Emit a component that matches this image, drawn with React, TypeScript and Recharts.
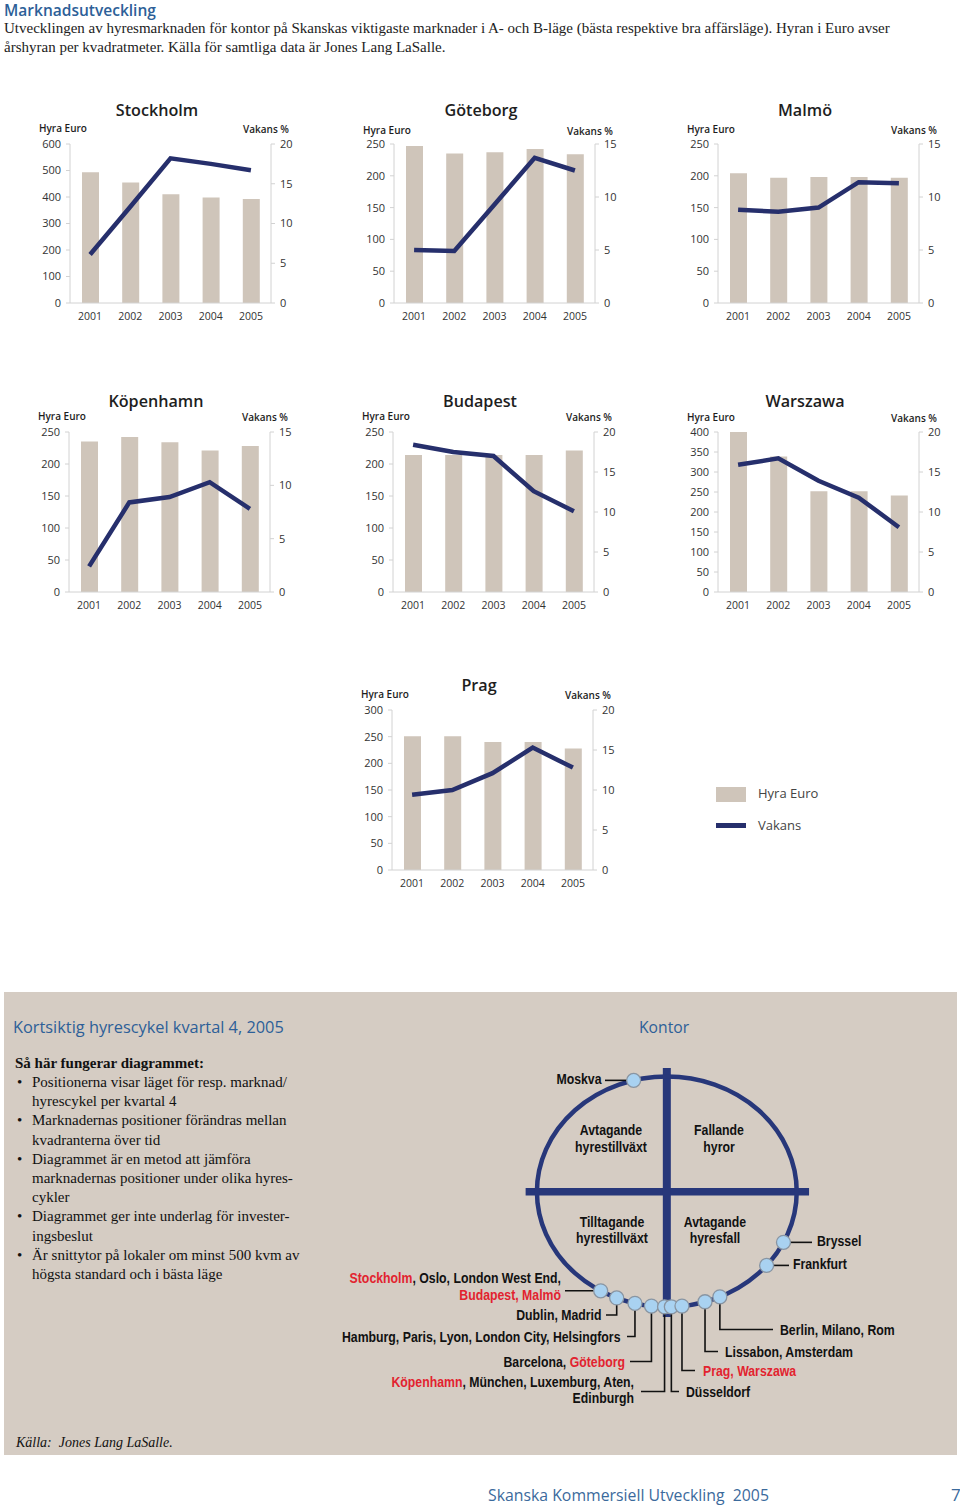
import React from "react"
import {
  ComposedChart, Bar, Line, XAxis, YAxis,
  ScatterChart, Scatter, ReferenceLine, ReferenceDot,
} from "recharts"

// ---- market data (Hyra Euro = rent per m2/year, Vakans % = vacancy) ----
const years = ["2001", "2002", "2003", "2004", "2005"]

const stockholmRent = [493, 455, 410, 398, 392]
const stockholmVacancy = [6.1, 12.1, 18.2, 17.5, 16.7]
const goteborgRent = [247, 235, 237, 242, 234]
const goteborgVacancy = [5.0, 4.9, 9.3, 13.7, 12.5]
const malmoRent = [204, 197, 198, 198, 197]
const malmoVacancy = [8.8, 8.6, 9.0, 11.4, 11.3]
const kopenhamnRent = [235, 242, 234, 221, 228]
const kopenhamnVacancy = [2.4, 8.4, 8.9, 10.3, 7.8]
const budapestRent = [214, 214, 214, 214, 221]
const budapestVacancy = [18.4, 17.5, 17.0, 12.6, 10.1]
const warszawaRent = [400, 339, 252, 252, 241]
const warszawaVacancy = [15.9, 16.7, 13.9, 11.8, 8.1]
const pragRent = [251, 251, 240, 240, 228]
const pragVacancy = [9.4, 10.0, 12.1, 15.3, 12.8]

const ticks250 = [0, 50, 100, 150, 200, 250]
const ticks300 = [0, 50, 100, 150, 200, 250, 300]
const ticks400 = [0, 50, 100, 150, 200, 250, 300, 350, 400]
const ticks600 = [0, 100, 200, 300, 400, 500, 600]
const vac15 = [0, 5, 10, 15]
const vac20 = [0, 5, 10, 15, 20]

// ---- hyrescykel (rent clock), position as angle on the cycle in degrees ----
const cycleMarkets = [
  "Moskva", "Bryssel", "Frankfurt", "Stockholm", "Dublin", "Hamburg",
  "Barcelona", "Köpenhamn", "Düsseldorf", "Prag", "Lissabon", "Berlin",
]
const cycleAngles = [104.8, -26.1, -39.8, -120.6, -112.7, -104.2, -96.8, -91, -88, -83.3, -72.9, -65.9]

// label text per dot, [text, highlighted]
const cycleLabels: [string, boolean][][][] = [
  [[["Moskva", false]]],
  [[["Bryssel", false]]],
  [[["Frankfurt", false]]],
  [[["Stockholm", true], [", Oslo, London West End,", false]], [["Budapest, Malmö", true]]],
  [[["Dublin, Madrid", false]]],
  [[["Hamburg, Paris, Lyon, London City, Helsingfors", false]]],
  [[["Barcelona, ", false], ["Göteborg", true]]],
  [[["Köpenhamn", true], [", München, Luxemburg, Aten,", false]], [["Edinburgh", false]]],
  [[["Düsseldorf", false]]],
  [[["Prag, Warszawa", true]]],
  [[["Lissabon, Amsterdam", false]]],
  [[["Berlin, Milano, Rom", false]]],
]

const NAVY = "#262f6c"
const BEIGE = "#cfc5ba"
const BLUE = "#2d5f98"
const RED = "#e2232f"

// ---- layout ----
const PW = 201
const ML = 60
const MR = 60
const MT = 10
const XH = 24

function T({ x, y, size, children, color = "#222", family = "'Open Sans', sans-serif", weight = 400, italic = false, align = "left", sx = 1 }: any) {
  const lh = Math.round(size * 1.2)
  const base: any = {
    position: "absolute", top: y - lh / 2, lineHeight: lh + "px", fontSize: size,
    fontFamily: family, fontWeight: weight, fontStyle: italic ? "italic" : "normal",
    color, whiteSpace: "nowrap", transform: `scaleX(${sx})`,
  }
  if (align === "center") {
    return <div style={{ ...base, left: x - 200, width: 400, textAlign: "center", transformOrigin: "center" }}>{children}</div>
  }
  if (align === "right") {
    return <div style={{ ...base, left: x - 600, width: 600, textAlign: "right", transformOrigin: "right" }}>{children}</div>
  }
  return <div style={{ ...base, left: x, transformOrigin: "left" }}>{children}</div>
}

function CityChart({ title, rent, vacancy, rentTicks, vacTicks, left, top, ph, titleY, labelY }: any) {
  const data = years.map((y, i) => ({ year: y, rent: rent[i], vacancy: vacancy[i] }))
  const w = PW + ML + MR
  const h = ph + MT + XH
  const axisStroke = "#d2d2d2"
  return (
    <>
      <T x={left + 87} y={titleY} size={17} align="center" color="#1e1e1e" weight={600} sx={0.95}>{title}</T>
      <T x={left - 31} y={labelY} size={10} weight={600} color="#1e1e1e">Hyra Euro</T>
      <T x={left + PW + 18} y={labelY + 1} size={10} weight={600} color="#1e1e1e" align="right">Vakans %</T>
      <div style={{ position: "absolute", left: left - ML, top: top - MT, width: w, height: h }}>
        <ComposedChart width={w} height={h} data={data} margin={{ top: MT, right: 0, bottom: 0, left: 0 }}>
          <XAxis
            dataKey="year" height={XH} interval={0} tickLine={false} tickMargin={4}
            axisLine={{ stroke: axisStroke }}
            tick={{ fontSize: 10.5, fill: "#333", fontFamily: "'Open Sans', sans-serif" }}
          />
          <YAxis
            yAxisId="rent" orientation="left" width={ML} domain={[0, rentTicks[rentTicks.length - 1]]}
            ticks={rentTicks} interval={0} tickSize={4} tickMargin={5}
            axisLine={{ stroke: axisStroke }} tickLine={{ stroke: axisStroke }}
            tick={{ fontSize: 11, fill: "#333", fontFamily: "'Open Sans', sans-serif" }}
          />
          <YAxis
            yAxisId="vac" orientation="right" width={MR} domain={[0, vacTicks[vacTicks.length - 1]]}
            ticks={vacTicks} interval={0} tickSize={4} tickMargin={5}
            axisLine={{ stroke: axisStroke }} tickLine={{ stroke: axisStroke }}
            tick={{ fontSize: 11, fill: "#333", fontFamily: "'Open Sans', sans-serif" }}
          />
          <Bar yAxisId="rent" dataKey="rent" fill={BEIGE} barSize={17} isAnimationActive={false} />
          <Line
            yAxisId="vac" dataKey="vacancy" type="linear" stroke={NAVY} strokeWidth={4.5}
            dot={false} activeDot={false} isAnimationActive={false}
          />
        </ComposedChart>
      </div>
    </>
  )
}

// rent clock geometry
const CX0 = 320
const CY0 = 1042
const CW = 630
const CH = 380
const XDOM = [-2.67, 2.18]
const YDOM = [-2, 1.3]
const RX = CW / (XDOM[1] - XDOM[0])
const RY = CH / (YDOM[1] - YDOM[0])

// connector / label placement (page px)
const cycleLabelLayout = [
  { endX: 605, tx: 601.5, ty: 1079, anchor: "end" },
  { endX: 812, tx: 817, ty: 1241, anchor: "start" },
  { endX: 789, tx: 793, ty: 1264, anchor: "start" },
  { endX: 565, tx: 561, ty: 1278, anchor: "end" },
  { endX: 606, elbowY: 1315, tx: 601.5, ty: 1315, anchor: "end" },
  { endX: 627, elbowY: 1336.5, tx: 620.5, ty: 1336.5, anchor: "end" },
  { endX: 630, elbowY: 1361.5, tx: 625, ty: 1361.5, anchor: "end" },
  { endX: 641, elbowY: 1391.5, tx: 634, ty: 1381.5, anchor: "end" },
  { endX: 679, elbowY: 1391.5, tx: 686, ty: 1391.5, anchor: "start" },
  { endX: 695, elbowY: 1370.5, tx: 703, ty: 1370.5, anchor: "start" },
  { endX: 718, elbowY: 1351.5, tx: 725, ty: 1351.5, anchor: "start" },
  { endX: 773, elbowY: 1329.5, tx: 780, ty: 1329.5, anchor: "start" },
]

function CycleDot(props: any) {
  const { cx, cy, payload } = props
  const lay: any = cycleLabelLayout[payload.idx]
  const lines = cycleLabels[payload.idx]
  const ex = lay.endX - CX0
  const path = lay.elbowY == null
    ? `M${cx},${cy}H${ex}`
    : `M${cx},${cy}V${lay.elbowY - CY0}H${ex}`
  return (
    <g>
      <path d={path} stroke="#111" strokeWidth={1.6} fill="none" />
      <circle cx={cx} cy={cy} r={7} fill="#a9d2f1" stroke="#8995a2" strokeWidth={1.3} />
      {lines.map((segs, li) => (
        <g key={li} transform={`translate(${lay.tx - CX0},${lay.ty - CY0 + li * 16.5}) scale(0.82,1)`}>
          <text
            x={0} y={0} textAnchor={lay.anchor} dominantBaseline="central"
            fontFamily="'Liberation Sans', Arial, sans-serif" fontWeight={700} fontSize={15} fill="#111"
          >
            {segs.map(([s, hi], si) => <tspan key={si} fill={hi ? RED : "#111"}>{s}</tspan>)}
          </text>
        </g>
      ))}
    </g>
  )
}

function Ring(props: any) {
  const { cx, cy } = props
  return <ellipse cx={cx} cy={cy} rx={RX} ry={RY} fill="none" stroke="#27377a" strokeWidth={4.5} />
}

function RentClock() {
  const data = cycleMarkets.map((m, i) => ({
    market: m,
    x: Math.cos((cycleAngles[i] * Math.PI) / 180),
    y: Math.sin((cycleAngles[i] * Math.PI) / 180),
    idx: i,
  }))
  return (
    <div style={{ position: "absolute", left: CX0, top: CY0, width: CW, height: CH }}>
      <ScatterChart width={CW} height={CH} margin={{ top: 0, right: 0, bottom: 0, left: 0 }}>
        <XAxis type="number" dataKey="x" domain={XDOM} allowDataOverflow hide />
        <YAxis type="number" dataKey="y" domain={YDOM} allowDataOverflow hide />
        <ReferenceDot x={0} y={0} r={RX} shape={<Ring />} />
        <ReferenceLine segment={[{ x: -1.087, y: 0 }, { x: 1.095, y: 0 }]} stroke="#27377a" strokeWidth={7.5} />
        <ReferenceLine segment={[{ x: 0, y: 1.074 }, { x: 0, y: -1.088 }]} stroke="#27377a" strokeWidth={8} />
        <Scatter data={data} shape={(p: any) => <CycleDot {...p} />} isAnimationActive={false} />
      </ScatterChart>
    </div>
  )
}

const QuadLabel = ({ x, y, lines }: any) => (
  <>
    {lines.map((l: string, i: number) => (
      <T key={i} x={x} y={y + i * 16.5} size={15} weight={700} color="#111" align="center" sx={0.82}
        family="'Liberation Sans', Arial, sans-serif">{l}</T>
    ))}
  </>
)

const bulletLines = [
  ["•", "Positionerna visar läget för resp. marknad/"],
  ["", "hyrescykel per kvartal 4"],
  ["•", "Marknadernas positioner förändras mellan"],
  ["", "kvadranterna över tid"],
  ["•", "Diagrammet är en metod att jämföra"],
  ["", "marknadernas positioner under olika hyres-"],
  ["", "cykler"],
  ["•", "Diagrammet ger inte underlag för invester-"],
  ["", "ingsbeslut"],
  ["•", "Är snittytor på lokaler om minst 500 kvm av"],
  ["", "högsta standard och i bästa läge"],
]

const SERIF = "'Liberation Serif', 'Times New Roman', serif"

export default function App() {
  return (
    <div style={{ position: "absolute", left: 0, top: 0, width: 960, height: 1506, overflow: "hidden", background: "#fff" }}>
      <T x={4} y={10} size={16} weight={600} color={BLUE} sx={0.97}>Marknadsutveckling</T>
      <T x={4} y={28} size={15} family={SERIF} color="#222">
        Utvecklingen av hyresmarknaden för kontor på Skanskas viktigaste marknader i A- och B-läge (bästa respektive bra affärsläge). Hyran i Euro avser
      </T>
      <T x={4} y={47} size={15} family={SERIF} color="#222">
        årshyran per kvadratmeter. Källa för samtliga data är Jones Lang LaSalle.
      </T>

      <CityChart title="Stockholm" rent={stockholmRent} vacancy={stockholmVacancy} rentTicks={ticks600} vacTicks={vac20}
        left={70} top={144} ph={159} titleY={110} labelY={128} />
      <CityChart title="Göteborg" rent={goteborgRent} vacancy={goteborgVacancy} rentTicks={ticks250} vacTicks={vac15}
        left={394} top={144} ph={159} titleY={110} labelY={130} />
      <CityChart title="Malmö" rent={malmoRent} vacancy={malmoVacancy} rentTicks={ticks250} vacTicks={vac15}
        left={718} top={144} ph={159} titleY={110} labelY={129} />
      <CityChart title="Köpenhamn" rent={kopenhamnRent} vacancy={kopenhamnVacancy} rentTicks={ticks250} vacTicks={vac15}
        left={69} top={432} ph={160} titleY={401} labelY={416} />
      <CityChart title="Budapest" rent={budapestRent} vacancy={budapestVacancy} rentTicks={ticks250} vacTicks={vac20}
        left={393} top={432} ph={160} titleY={401} labelY={416} />
      <CityChart title="Warszawa" rent={warszawaRent} vacancy={warszawaVacancy} rentTicks={ticks400} vacTicks={vac20}
        left={718} top={432} ph={160} titleY={401} labelY={417} />
      <CityChart title="Prag" rent={pragRent} vacancy={pragVacancy} rentTicks={ticks300} vacTicks={vac20}
        left={392} top={710} ph={160} titleY={685} labelY={694} />

      {/* legend */}
      <div style={{ position: "absolute", left: 716, top: 787, width: 30, height: 15, background: BEIGE }} />
      <div style={{ position: "absolute", left: 716, top: 823, width: 30, height: 5, background: NAVY }} />
      <T x={758} y={793} size={13} color="#444">Hyra Euro</T>
      <T x={758} y={825} size={13} color="#444">Vakans</T>

      {/* hyrescykel box */}
      <div style={{ position: "absolute", left: 4, top: 992, width: 953, height: 463, background: "#d5ccc3" }} />
      <T x={13} y={1027} size={16.5} color={BLUE} sx={0.99}>Kortsiktig hyrescykel kvartal 4, 2005</T>
      <T x={639} y={1027} size={16.5} color={BLUE} sx={0.95}>Kontor</T>
      <T x={15} y={1063} size={15} family={SERIF} weight={700} color="#111">Så här fungerar diagrammet:</T>
      {bulletLines.map(([b, t], i) => (
        <React.Fragment key={i}>
          {b && <T x={17} y={1082 + i * 19.2} size={15} family={SERIF} color="#111">{b}</T>}
          <T x={32} y={1082 + i * 19.2} size={15} family={SERIF} color="#111">{t}</T>
        </React.Fragment>
      ))}
      <T x={16} y={1442} size={14} family={SERIF} italic color="#111">Källa:&nbsp; Jones Lang LaSalle.</T>

      <RentClock />
      <QuadLabel x={611} y={1130} lines={["Avtagande", "hyrestillväxt"]} />
      <QuadLabel x={719} y={1130} lines={["Fallande", "hyror"]} />
      <QuadLabel x={612} y={1221.5} lines={["Tilltagande", "hyrestillväxt"]} />
      <QuadLabel x={715} y={1221.5} lines={["Avtagande", "hyresfall"]} />

      {/* footer */}
      <T x={488} y={1495} size={17} color="#3b6a9c" sx={0.93}>Skanska Kommersiell Utveckling&nbsp; 2005</T>
      <T x={951} y={1495} size={17} color="#3b6a9c">7</T>
    </div>
  )
}
